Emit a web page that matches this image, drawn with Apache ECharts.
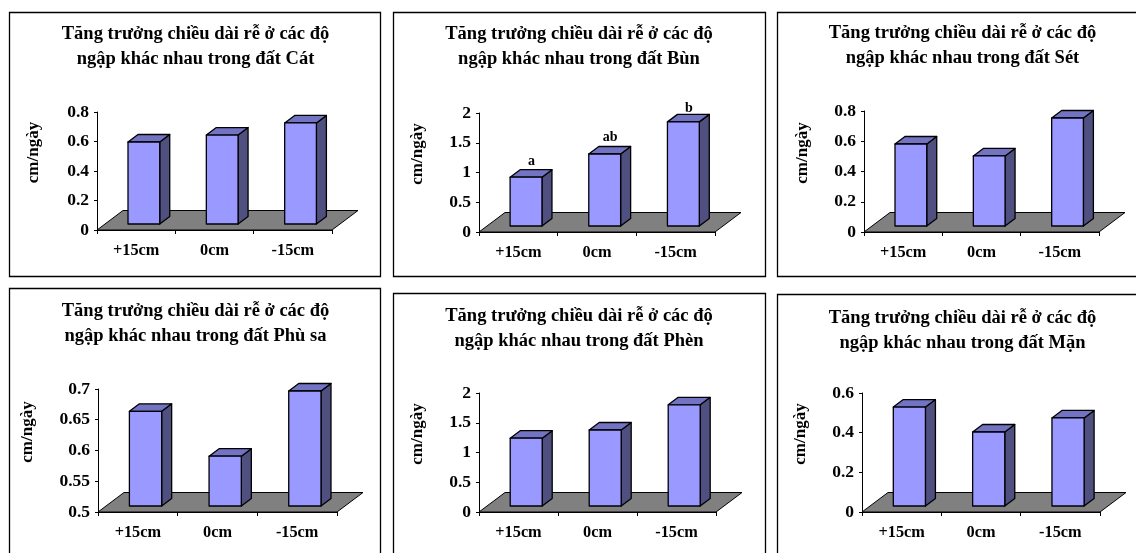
<!DOCTYPE html>
<html><head><meta charset="utf-8">
<style>html,body{margin:0;padding:0;background:#fff;overflow:hidden}#c{width:1136px;height:553px}</style>
<script src="https://cdn.jsdelivr.net/npm/echarts@6/dist/echarts.min.js"></script>
</head><body><div id="c"></div>
<script>
const categories = ['+15cm', '0cm', '-15cm'];
const titleLine1 = 'Tăng trưởng chiều dài rễ ở các độ';
const soils = ['Cát', 'Bùn', 'Sét', 'Phù sa', 'Phèn', 'Mặn'];
const valuesCat = [0.556, 0.603, 0.685];
const valuesBun = [0.82, 1.21, 1.75];
const valuesSet = [0.542, 0.463, 0.714];
const valuesPhuSa = [0.654, 0.581, 0.687];
const valuesPhen = [1.14, 1.277, 1.70];
const valuesMan = [0.499, 0.373, 0.444];
const bunLetters = ['a', 'ab', 'b'];
const letterLift = [16, 17, 13];
const panelValues = [valuesCat, valuesBun, valuesSet, valuesPhuSa, valuesPhen, valuesMan];
const panelLetters = [null, bunLetters, null, null, null, null];
const yMin = [0, 0, 0, 0.5, 0, 0];
const yMax = [0.8, 2, 0.8, 0.7, 2, 0.6];
const yStep = [0.2, 0.5, 0.2, 0.05, 0.5, 0.2];

// layout: frame [x,y,w,h], plot [left,top,width,height], title centre/top, axis-name gap
const frames = [[9.5,12.5,371,264],[393.5,12.5,372,264],[777.5,12.5,372,264],[9.5,288.5,371,280],[393.5,293.5,372,280],[777.5,294.5,372,280]];
const plots = [[97,112,235,118],[479,113,236,119],[864,111,235,121],[98,389,239,123],[479,393,237,119],[862,393,238,119]];
const titleTops = [17,17,16,294,299,301];
const titleCx = [190.5,574,957.5,190.5,574,957.5];
const nameGaps = [55,53,53,62,53,53];

const FONT = '"Liberation Serif","Times New Roman",serif';
const grid = [], xAxis = [], yAxis = [], series = [], title = [], graphic = [];

frames.forEach(f => graphic.push({type:'rect',silent:true,z:0,shape:{x:f[0],y:f[1],width:f[2],height:f[3]},style:{fill:'#fff',stroke:'#000',lineWidth:1.3}}));

function floorItem(params, api) {
  const r = params.coordSys, dx = 26, dy = 19.5, b = r.y + r.height;
  return {type:'polygon',shape:{points:[[r.x,b],[r.x+r.width,b],[r.x+r.width+dx,b-dy],[r.x+dx,b-dy]]},
    style:{fill:'#808080',stroke:'#000',lineWidth:1}};
}
function makeBar(p) {
  return function (params, api) {
    const i = api.value(0), v = api.value(1);
    const band = api.size([1, 0])[0];
    const w = band * 0.405, ox = 7.7, oy = 6, dx = 10, dy = 7.5;
    const topPt = api.coord([i, v]), basePt = api.coord([i, yMin[p]]);
    const xl = topPt[0] + ox - w / 2, xr = xl + w, yt = topPt[1] - oy, yb = basePt[1] - oy;
    const line = {stroke:'#000',lineWidth:1.3,lineJoin:'round'};
    const children = [
      {type:'polygon',shape:{points:[[xr,yt],[xr+dx,yt-dy],[xr+dx,yb-dy],[xr,yb]]},style:{fill:'#4F4F80',...line}},
      {type:'polygon',shape:{points:[[xl,yt],[xl+dx,yt-dy],[xr+dx,yt-dy],[xr,yt]]},style:{fill:'#7373C4',...line}},
      {type:'rect',shape:{x:xl,y:yt,width:w,height:yb-yt},style:{fill:'#9999FF',...line}}
    ];
    const letters = panelLetters[p];
    if (letters) children.push({type:'text',z2:5,style:{text:letters[i],x:(xl+xr)/2+5.5,y:yt-letterLift[i],align:'center',verticalAlign:'middle',
      font:'bold 14px '+FONT,fill:'#000'}});
    return {type:'group',children};
  };
}

panelValues.forEach((vals, p) => {
  const pl = plots[p];
  grid.push({left:pl[0],top:pl[1],width:pl[2],height:pl[3],containLabel:false});
  title.push({text:titleLine1+'\nngập khác nhau trong đất '+soils[p],left:titleCx[p],top:titleTops[p],textAlign:'center',
    textStyle:{fontFamily:FONT,fontWeight:'bold',fontSize:18.5,lineHeight:24.5,color:'#000'}});
  xAxis.push({type:'category',gridIndex:p,data:categories,boundaryGap:true,
    axisLine:{show:true,lineStyle:{color:'#000',width:1}},axisTick:{show:true,length:4,alignWithLabel:false,interval:0,lineStyle:{color:'#000'}},
    axisLabel:{interval:0,margin:13,color:'#000',fontFamily:FONT,fontWeight:'bold',fontSize:16.3}});
  yAxis.push({type:'value',gridIndex:p,min:yMin[p],max:yMax[p],interval:yStep[p],name:'cm/ngày',nameLocation:'middle',nameGap:nameGaps[p],nameRotate:90,
    nameTextStyle:{color:'#000',fontFamily:FONT,fontWeight:'bold',fontSize:17,padding:[0,0,0,37]},
    splitLine:{show:false},axisLine:{show:true,lineStyle:{color:'#000',width:1}},axisTick:{show:true,length:3,lineStyle:{color:'#000'}},
    axisLabel:{margin:8,padding:[2,0,0,0],color:'#000',fontFamily:FONT,fontWeight:'bold',fontSize:17.5}});
  series.push({type:'custom',xAxisIndex:p,yAxisIndex:p,z:1,silent:true,animation:false,data:[[0,yMin[p]]],renderItem:floorItem,encode:{x:0,y:1}});
  series.push({type:'custom',xAxisIndex:p,yAxisIndex:p,z:3,silent:true,animation:false,
    data:vals.map((v,i)=>[i,v]),renderItem:makeBar(p),encode:{x:0,y:1}});
});

const chart = echarts.init(document.getElementById('c'), null, {renderer:'canvas'});
chart.setOption({backgroundColor:'#fff',animation:false,tooltip:{show:false},graphic,title,grid,xAxis,yAxis,series});
</script></body></html>
